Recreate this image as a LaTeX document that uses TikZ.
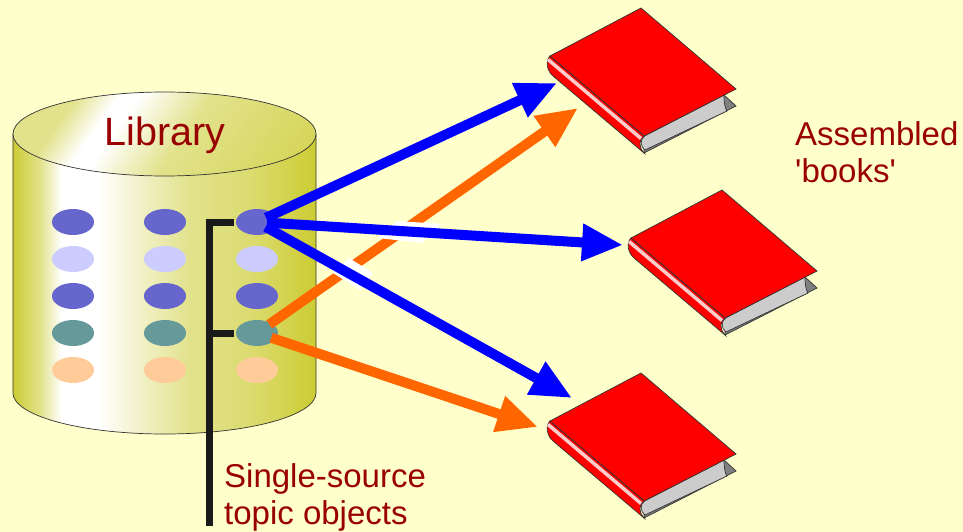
\documentclass[tikz,border=0pt]{standalone}
\usepackage{fontspec}
\setmainfont{Liberation Sans}
\usepackage{xcolor}
\usetikzlibrary{shapes.geometric, arrows.meta, positioning}
\definecolor{paper}{HTML}{FFFFCC}
\definecolor{oliveedge}{HTML}{CCCC33}
\definecolor{olivemid}{HTML}{E2E28C}
\definecolor{labelred}{HTML}{990000}
\definecolor{blueobj}{HTML}{6666CC}
\definecolor{paleobj}{HTML}{CCCCFF}
\definecolor{tealobj}{HTML}{669999}
\definecolor{peachobj}{HTML}{FFCC99}
\definecolor{bracket}{HTML}{1A1A1A}
\definecolor{arrowblue}{HTML}{0000FF}
\definecolor{arroworange}{HTML}{FF6600}
\pgfdeclarehorizontalshading{cansides}{100bp}{
  color(0bp)=(oliveedge); color(25bp)=(oliveedge); color(29.5bp)=(olivemid);
  color(33bp)=(white); color(39bp)=(white); color(54bp)=(olivemid);
  color(64bp)=(olivemid!70!oliveedge); color(75bp)=(oliveedge); color(100bp)=(oliveedge)}
\pgfdeclarehorizontalshading{cantop}{100bp}{
  color(0bp)=(olivemid); color(28bp)=(olivemid); color(36bp)=(white); color(40bp)=(white);
  color(54bp)=(olivemid); color(72bp)=(olivemid!60!oliveedge); color(100bp)=(oliveedge)}
\tikzstyle{topicobj} = [ellipse, minimum width=42pt, minimum height=26pt, inner sep=0pt, outer sep=0pt]
\tikzstyle{label} = [text=labelred, align=left, anchor=north west, inner sep=0pt, font=\fontsize{33}{37}\selectfont]
\tikzstyle{blueline} = [line width=10pt, draw=arrowblue, fill=arrowblue, shorten <=10pt, -{Triangle[length=41pt,width=35pt]}]
\tikzstyle{orangeline} = [line width=10pt, draw=arroworange, fill=arroworange, shorten <=15pt, -{Triangle[length=41pt,width=35pt]}]
\tikzstyle{tie} = [line width=7pt, draw=bracket]
\tikzset{
  book/.pic={
    \fill [gray, draw=black!80, line width=0.7pt] (83,87) -- (95,98) -- (3,145) -- (3.3,128) -- cycle;
    \fill [black!20, draw=black!80, line width=0.7pt] (3.3,128) -- (83,87) .. controls (83,95) and (84,100) .. (86,103)
      -- (4,142) .. controls (-1,138) and (-1,132) .. (3.3,128) -- cycle;
    \fill [red, draw=black!80, line width=0.7pt] (-91,48) .. controls (-96,53) and (-94,63) .. (-88,68)
      -- (3,145) .. controls (-3,138) and (-2,132) .. (3.3,128) -- cycle;
    \draw [red!20, line width=3.5pt] (-93,51.5) -- (0,130.5);
    \fill [red, draw=black!80, line width=0.7pt] (0,0) -- (95,81) -- (3.3,128) -- (-91,48) -- cycle;
  }
}
\begin{document}
\begin{tikzpicture}[x=1pt,y=-1pt]
\fill [paper] (0,0) rectangle (963,532);
\useasboundingbox (0,0) rectangle (963,532);

% library drum
\shade [shading=cansides, draw=black!80, line width=0.7pt] (13,134) -- (13,393) arc [start angle=180, end angle=0, x radius=151.5, y radius=41] -- (316,134) -- cycle;
\shade [shading=cantop, shading angle=-35, draw=black!80, line width=0.7pt] (164.5,134) ellipse [x radius=151.5, y radius=42];
\node (library) [text=labelred, font=\fontsize{39.5}{40}\selectfont] at (165,135) {Library};

% topic objects
\foreach \col/\x in {a/73, b/165, c/257} {
  \node (\col1) [topicobj, fill=blueobj] at (\x,222) {};
  \node (\col2) [topicobj, fill=paleobj, below=11pt of \col1] {};
  \node (\col3) [topicobj, fill=blueobj, below=11pt of \col2] {};
  \node (\col4) [topicobj, fill=tealobj, below=11pt of \col3] {};
  \node (\col5) [topicobj, fill=peachobj, below=11pt of \col4] {};
}

% bracket
\coordinate (tieTop) at (209,222);
\coordinate (tieMid) at (209,333);
\coordinate (tieEnd) at (209,526);
\draw [tie] (c1.west) ++(-2,0) -- (tieTop) -- (tieEnd);
\draw [tie] (c4.west) ++(-2,0) -- (tieMid);

% books
\pic (bookA) at (641,8) {book};
\pic (bookB) at (722,190) {book};
\pic (bookC) at (641,373) {book};

% arrows
\coordinate (tipA) at (557,83);
\coordinate (tipB) at (623,245);
\coordinate (tipC) at (572,398);
\coordinate (tipD) at (578,108);
\coordinate (tipE) at (538,427);

\draw [orangeline] (c4.center) -- (tipD);
\draw [orangeline] (c4.center) -- (tipE);
\fill [white] (349,258) -- (373,273) -- (360,290) -- (333,273) -- cycle;
\fill [white] (397,221) -- (442,224) -- (422,243) -- (378,238) -- cycle;
\draw [blueline] (c1.center) -- (tipA);
\draw [blueline] (c1.center) -- (tipB);
\draw [blueline] (c1.center) -- (tipC);

% labels
\node (single) [label] at (224,463) {Single-source\\topic objects};
\node (assembled) [label] at (795,121) {Assembled\\\textquotesingle books\textquotesingle};
\end{tikzpicture}
\end{document}
